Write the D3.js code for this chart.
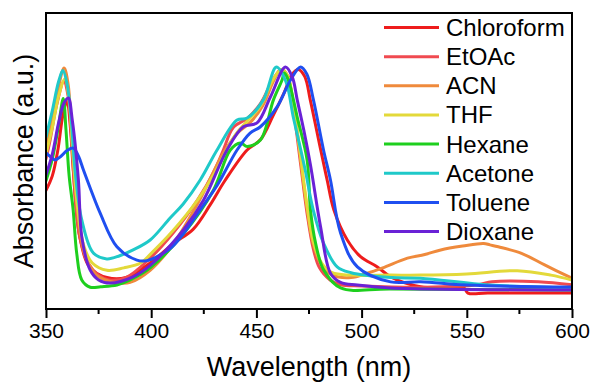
<!DOCTYPE html>
<html>
<head>
<meta charset="utf-8">
<script src="https://cdn.jsdelivr.net/npm/d3@7"></script>
<style>
  body { margin: 0; background: #fff; }
  text { font-family: "Liberation Sans", Arial, sans-serif; fill: #000; }
</style>
</head>
<body>
<div id="chart"></div>
<script>
"use strict";

// wavelength (nm) / normalized absorbance (a.u.)
const chloroformWl = [350, 353, 355.7, 358, 360, 361.5, 363, 366, 371, 379, 388, 399.5, 410.5, 420, 428, 435, 445.6, 452, 458, 463, 467, 470, 473, 475.7, 480.5, 483.7, 486.8, 493.2, 499.5, 507.5, 513.8, 528, 540, 548.6, 550.5, 560, 600];
const chloroformAbs = [0.49, 0.55, 0.66, 0.80, 0.86, 0.76, 0.57, 0.30, 0.17, 0.13, 0.13, 0.19, 0.27, 0.33, 0.43, 0.53, 0.657, 0.70, 0.80, 0.89, 0.97, 0.99, 0.96, 0.86, 0.66, 0.53, 0.41, 0.285, 0.216, 0.174, 0.133, 0.092, 0.088, 0.087, 0.066, 0.066, 0.066];

const etoacWl = [350, 352, 355, 358.5, 360.5, 362, 364, 366, 370, 375, 380, 388, 399.5, 410, 422, 430, 434.3, 439, 446, 452, 458, 462, 465, 468, 471, 474, 477, 480, 485, 490, 500, 530, 555, 562, 584, 600];
const etoacAbs = [0.62, 0.70, 0.84, 0.94, 0.88, 0.72, 0.45, 0.30, 0.19, 0.14, 0.12, 0.13, 0.21, 0.31, 0.45, 0.57, 0.657, 0.75, 0.79, 0.85, 0.95, 0.99, 0.96, 0.80, 0.60, 0.40, 0.25, 0.17, 0.12, 0.10, 0.095, 0.09, 0.10, 0.113, 0.113, 0.10];

const acnWl = [350, 353, 356, 358.6, 360.5, 362, 364, 366, 369, 374, 380, 385, 390, 399.5, 410.6, 423, 434, 441.4, 447, 453, 458, 461.5, 465, 468, 471, 474, 477, 481, 486, 495, 502.7, 510, 521.8, 530, 537.6, 548, 558, 561, 565, 576, 587, 600];
const acnAbs = [0.67, 0.79, 0.92, 0.996, 0.93, 0.75, 0.50, 0.33, 0.21, 0.14, 0.115, 0.107, 0.11, 0.16, 0.27, 0.45, 0.64, 0.73, 0.77, 0.84, 0.94, 0.99, 0.95, 0.82, 0.62, 0.42, 0.27, 0.18, 0.14, 0.13, 0.148, 0.17, 0.21, 0.225, 0.244, 0.26, 0.271, 0.265, 0.257, 0.23, 0.182, 0.127];

const thfWl = [350, 353, 356, 359, 361, 363, 365, 368, 372, 379, 387, 395, 400, 410, 422, 430, 440, 446, 452, 458, 462, 465, 468, 471, 474, 477, 481, 486, 495, 514, 528, 550, 574, 590, 600];
const thfAbs = [0.64, 0.75, 0.88, 0.95, 0.86, 0.62, 0.42, 0.26, 0.19, 0.16, 0.17, 0.19, 0.23, 0.32, 0.45, 0.56, 0.72, 0.78, 0.84, 0.95, 0.99, 0.96, 0.82, 0.63, 0.43, 0.28, 0.19, 0.15, 0.14, 0.14, 0.14, 0.145, 0.158, 0.14, 0.12];

const hexaneWl = [350, 353, 356, 358.2, 359.5, 361, 362.9, 364.6, 367, 371, 376, 383.7, 390, 399.5, 415.2, 429.5, 437.6, 442.4, 445.6, 451.9, 458.1, 462.2, 463.3, 465.2, 467.6, 469.4, 474.1, 475.7, 478.1, 482, 490, 513.8, 600];
const hexaneAbs = [0.53, 0.62, 0.76, 0.87, 0.74, 0.55, 0.41, 0.23, 0.12, 0.09, 0.092, 0.099, 0.12, 0.17, 0.31, 0.49, 0.657, 0.686, 0.671, 0.698, 0.864, 0.946, 0.975, 0.946, 0.864, 0.793, 0.616, 0.409, 0.273, 0.161, 0.087, 0.083, 0.079];

const acetoneWl = [350, 353, 356, 358, 360, 362, 363.8, 367, 372.5, 378.9, 385, 391.4, 399.5, 409, 415.2, 423.3, 431.3, 440.8, 445.6, 453.3, 459.5, 464, 467.6, 470.5, 473.3, 477, 482, 488.4, 495, 514, 528, 561, 600];
const acetoneAbs = [0.71, 0.82, 0.94, 0.985, 0.93, 0.78, 0.574, 0.368, 0.231, 0.207, 0.22, 0.244, 0.285, 0.376, 0.434, 0.533, 0.657, 0.781, 0.789, 0.864, 1.0, 0.94, 0.79, 0.68, 0.57, 0.41, 0.27, 0.174, 0.15, 0.13, 0.127, 0.099, 0.087];

const tolueneWl = [350, 352, 354.3, 357, 360, 363, 365.5, 367.8, 371, 375.7, 383.7, 393.2, 398, 409, 415.2, 423.3, 431.3, 440.8, 447, 451.9, 459.9, 466.2, 471, 474, 477.1, 481.9, 485.2, 490, 498, 513.8, 528, 550, 600];
const tolueneAbs = [0.645, 0.63, 0.616, 0.63, 0.655, 0.665, 0.63, 0.574, 0.50, 0.397, 0.257, 0.202, 0.20, 0.25, 0.31, 0.41, 0.51, 0.657, 0.727, 0.753, 0.836, 0.946, 1.0, 0.97, 0.864, 0.657, 0.533, 0.314, 0.174, 0.112, 0.113, 0.099, 0.091];

const dioxaneWl = [350, 353, 356, 358.5, 360.6, 362.5, 365.4, 367, 371, 375, 380.5, 391.4, 399.5, 415.2, 424.9, 436, 443.8, 450.3, 456.7, 463.8, 467, 469.4, 472.5, 475.7, 480.5, 485.2, 490, 498, 513.8, 600];
const dioxaneAbs = [0.554, 0.64, 0.77, 0.85, 0.872, 0.78, 0.533, 0.298, 0.161, 0.12, 0.107, 0.133, 0.18, 0.326, 0.45, 0.657, 0.753, 0.769, 0.877, 1.0, 0.96, 0.864, 0.74, 0.595, 0.34, 0.148, 0.11, 0.099, 0.087, 0.079];

const solventNames = ["Chloroform", "EtOAc", "ACN", "THF", "Hexane", "Acetone", "Toluene", "Dioxane"];
const solventColors = ["#ee1c1c", "#f04a50", "#ef8a3c", "#e3d93a", "#1ecf1e", "#1fc9c9", "#1f4ff0", "#6a22d6"];
const xTicks = [350, 400, 450, 500, 550, 600];
const xMinorTicks = [375, 425, 475, 525, 575];

const series = [
  [chloroformWl, chloroformAbs],
  [etoacWl, etoacAbs],
  [acnWl, acnAbs],
  [thfWl, thfAbs],
  [hexaneWl, hexaneAbs],
  [acetoneWl, acetoneAbs],
  [tolueneWl, tolueneAbs],
  [dioxaneWl, dioxaneAbs]
];

const width = 593;
const height = 383;
const margin = { top: 13, right: 21, bottom: 74, left: 46 };
const plotW = width - margin.left - margin.right;
const plotH = height - margin.top - margin.bottom;

const svg = d3.select("#chart")
  .append("svg")
  .attr("width", width)
  .attr("height", height);

const g = svg.append("g")
  .attr("transform", "translate(" + margin.left + "," + margin.top + ")");

let xScale = d3.scaleLinear().domain([350, 600]).range([0, plotW]);
let yScale = d3.scaleLinear().domain([0, 1.223]).range([plotH, 0]);

g.append("clipPath").attr("id", "plotclip")
  .append("rect").attr("width", plotW).attr("height", plotH);

let lineGen = d3.line()
  .x(d => xScale(d[0]))
  .y(d => yScale(d[1]))
  .curve(d3.curveCatmullRom.alpha(0.5));

const curves = g.append("g").attr("clip-path", "url(#plotclip)");
series.forEach((s, i) => {
  const pts = s[0].map((w, k) => [w, s[1][k]]);
  curves.append("path")
    .attr("d", lineGen(pts))
    .attr("fill", "none")
    .attr("stroke", solventColors[i])
    .attr("stroke-width", 3)
    .attr("stroke-linejoin", "round")
    .attr("stroke-linecap", "round");
});

// bottom axis, major + minor ticks
const xAxis = g.append("g")
  .attr("transform", "translate(0," + plotH + ")")
  .call(d3.axisBottom(xScale).tickValues(xTicks).tickSize(9).tickPadding(5).tickFormat(d3.format("d")));
xAxis.select(".domain").remove();
xAxis.selectAll(".tick line").attr("stroke-width", 2);
xAxis.selectAll(".tick text")
  .attr("font-size", 21)
  .attr("font-family", "'Liberation Sans', Arial, sans-serif");

g.append("g")
  .attr("transform", "translate(0," + plotH + ")")
  .selectAll("line")
  .data(xMinorTicks)
  .enter().append("line")
  .attr("x1", d => xScale(d)).attr("x2", d => xScale(d))
  .attr("y1", 0).attr("y2", 5)
  .attr("stroke", "#000").attr("stroke-width", 2);

// frame
g.append("rect")
  .attr("width", plotW).attr("height", plotH)
  .attr("fill", "none").attr("stroke", "#000").attr("stroke-width", 2);

// axis titles
svg.append("text")
  .attr("x", margin.left + plotW / 2)
  .attr("y", 376)
  .attr("text-anchor", "middle")
  .attr("font-size", 27)
  .text("Wavelength (nm)");

svg.append("text")
  .attr("transform", "translate(33," + (margin.top + plotH / 2) + ") rotate(-90)")
  .attr("text-anchor", "middle")
  .attr("font-size", 27)
  .text("Absorbance (a.u.)");

// legend
const legend = svg.append("g");
solventNames.forEach((name, i) => {
  const yb = 36 + i * 29.15;
  legend.append("line")
    .attr("x1", 384).attr("x2", 439)
    .attr("y1", yb - 8.5).attr("y2", yb - 8.5)
    .attr("stroke", solventColors[i])
    .attr("stroke-width", 3);
  legend.append("text")
    .attr("x", 446).attr("y", yb)
    .attr("font-size", 24)
    .text(name);
});
</script>
</body>
</html>
